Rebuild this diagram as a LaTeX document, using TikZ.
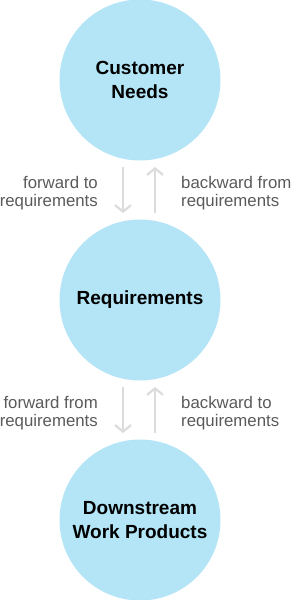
\documentclass[tikz,border=0pt]{standalone}
\usepackage{fontspec}
\setmainfont{Liberation Sans}
\usetikzlibrary{arrows.meta}
\definecolor{cfill}{HTML}{B3E5F6}
\definecolor{arrgray}{HTML}{DCDCDC}
\definecolor{txtgray}{HTML}{5A5A5A}
\begin{document}
\begin{tikzpicture}[x=1pt,y=-1pt,
  bubble/.style={circle,fill=cfill,minimum size=161pt,inner sep=0pt,align=center,
    font=\fontsize{19}{23.5}\selectfont\bfseries},
  sidelabel/.style={text=txtgray,font=\fontsize{16.8}{18.5}\selectfont,inner sep=0pt},
  flow/.style={draw=arrgray,line width=2.2pt,-{Straight Barb[length=6.5pt,width=16pt,line width=2.2pt]}}]
\useasboundingbox (0,0) rectangle (292,600);
\node[bubble] (cn) at (140,80) {Customer\\Needs};
\node[bubble] (rq) at (140,300) {Requirements};
\node[bubble] (dw) at (140,520) {Downstream\\Work Products};
\coordinate (a1t) at (123,167);
\coordinate (a1b) at (123,213);
\coordinate (a2t) at (155,167);
\coordinate (a2b) at (155,213);
\coordinate (a3t) at (123,387);
\coordinate (a3b) at (123,433);
\coordinate (a4t) at (155,387);
\coordinate (a4b) at (155,433);
\draw[flow] (a1t) -- (a1b);
\draw[flow] (a2b) -- (a2t);
\draw[flow] (a3t) -- (a3b);
\draw[flow] (a4b) -- (a4t);
\node[sidelabel,align=right,anchor=east] (l1) at (98,193) {forward to\\requirements};
\node[sidelabel,align=left,anchor=west] (r1) at (181,193) {backward from\\requirements};
\node[sidelabel,align=right,anchor=east] (l2) at (98,413) {forward from\\requirements};
\node[sidelabel,align=left,anchor=west] (r2) at (181,413) {backward to\\requirements};
\end{tikzpicture}
\end{document}
